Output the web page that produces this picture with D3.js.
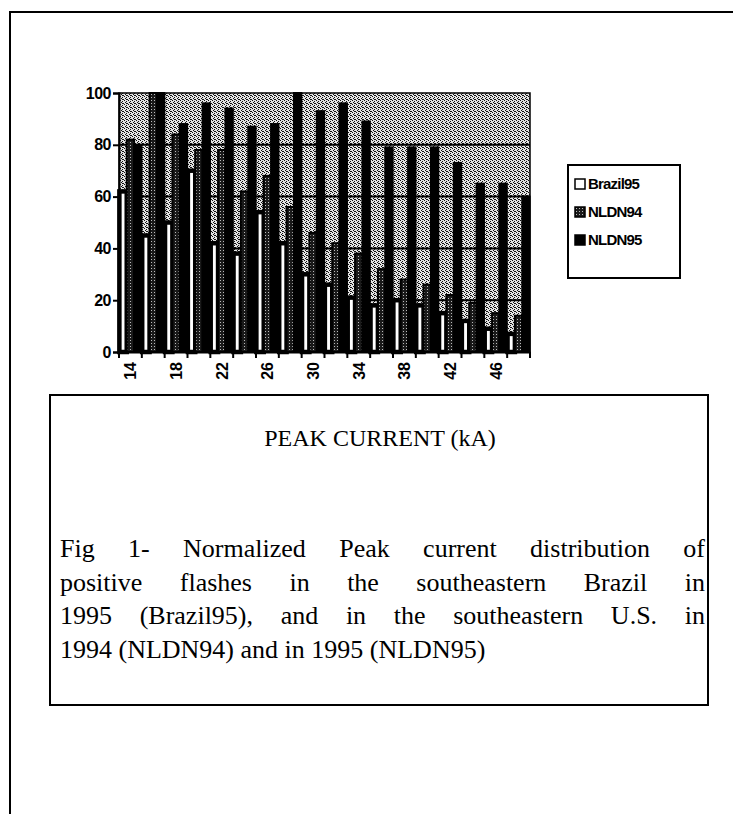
<!DOCTYPE html>
<html>
<head>
<meta charset="utf-8">
<script src="https://cdn.jsdelivr.net/npm/d3@7"></script>
<style>
  body { margin: 0; background: #fff; }
  svg text.ax { font-family: "Liberation Sans", Arial, sans-serif; font-weight: bold; font-size: 16px; }
  svg text.serif { font-family: "Liberation Serif", "Times New Roman", serif; }
</style>
</head>
<body>
<div id="chart"></div>
<script>
// peak current bins (kA)
const categories = [14, 16, 18, 20, 22, 24, 26, 28, 30, 32, 34, 36, 38, 40, 42, 44, 46, 48];
const tickLabels = [14, 18, 22, 26, 30, 34, 38, 42, 46];
const yTicks = [0, 20, 40, 60, 80, 100];

// normalized values
const brazil95 = [62, 45, 50, 70, 42, 38, 54, 42, 30, 26, 21, 18, 20, 18, 15, 12, 9, 7];
const nldn94 = [82, 100, 84, 78, 78, 62, 68, 56, 46, 42, 38, 32, 28, 26, 22, 19, 15, 14];
const nldn95 = [80, 100, 88, 96, 94, 87, 88, 100, 93, 96, 89, 79, 79, 79, 73, 65, 65, 60];

const seriesNames = ["Brazil95", "NLDN94", "NLDN95"];
const seriesData = [brazil95, nldn94, nldn95];
const captionLines = [
  "Fig 1- Normalized Peak current distribution of",
  "positive flashes in the southeastern Brazil in",
  "1995 (Brazil95), and in the southeastern U.S. in",
  "1994 (NLDN94) and in 1995 (NLDN95)"
];

const W = 733, H = 814;
const svg = d3.select("#chart").append("svg").attr("width", W).attr("height", H);

// patterns for the scanned look
const defs = svg.append("defs");
const bg = defs.append("pattern").attr("id", "stip").attr("width", 4).attr("height", 4)
  .attr("patternUnits", "userSpaceOnUse");
bg.append("rect").attr("width", 4).attr("height", 4).attr("fill", "#e4e4e4");
[[0, 0], [2, 1], [1, 2], [3, 3], [2, 3]].forEach(p => {
  bg.append("rect").attr("x", p[0]).attr("y", p[1]).attr("width", 1).attr("height", 1).attr("fill", "#111");
});
const hatch = defs.append("pattern").attr("id", "hatch").attr("width", 3).attr("height", 3)
  .attr("patternUnits", "userSpaceOnUse");
hatch.append("rect").attr("width", 3).attr("height", 3).attr("fill", "#1a1a1a");
hatch.append("rect").attr("x", 1).attr("y", 1).attr("width", 1).attr("height", 1).attr("fill", "#bbb");

const fills = ["#fff", "url(#hatch)", "#000"];

// outer frame
svg.append("path").attr("d", "M10,814 V12 H733").attr("fill", "none")
  .attr("stroke", "#000").attr("stroke-width", 2);

const plot = { left: 119, right: 530, top: 93, bottom: 352 };
const x = d3.scaleBand().domain(categories).range([plot.left, plot.right]).paddingInner(0).paddingOuter(0);
const xs = d3.scaleBand().domain(seriesNames).range([0, x.bandwidth()]).paddingInner(0).paddingOuter(0.05);
const y = d3.scaleLinear().domain([0, 100]).range([plot.bottom, plot.top]);

const g = svg.append("g");
g.append("rect").attr("x", plot.left).attr("y", plot.top)
  .attr("width", plot.right - plot.left).attr("height", plot.bottom - plot.top)
  .attr("fill", "url(#stip)").attr("stroke", "#000").attr("stroke-width", 1.5);

// gridlines
g.selectAll("line.grid").data(yTicks.slice(1, -1)).enter().append("line")
  .attr("x1", plot.left).attr("x2", plot.right)
  .attr("y1", d => y(d)).attr("y2", d => y(d))
  .attr("stroke", "#000").attr("stroke-width", 2);

// bars
seriesNames.forEach((name, si) => {
  g.selectAll("rect.s" + si).data(categories).enter().append("rect")
    .attr("x", (d) => x(d) + xs(name))
    .attr("y", (d, i) => y(seriesData[si][i]))
    .attr("width", xs.bandwidth())
    .attr("height", (d, i) => y(0) - y(seriesData[si][i]))
    .attr("fill", fills[si])
    .attr("stroke", "#000").attr("stroke-width", si === 0 ? 4.5 : 2);
});

// y axis
const yAxis = g.append("g").attr("transform", `translate(${plot.left},0)`)
  .call(d3.axisLeft(y).tickValues(yTicks).tickSize(6).tickPadding(2));
yAxis.select(".domain").attr("stroke-width", 2);
yAxis.selectAll("line").attr("stroke-width", 2);
yAxis.selectAll("text").attr("class", "ax").attr("fill", "#000").style("letter-spacing", "-0.5px");

// x axis
const xAxis = g.append("g").attr("transform", `translate(0,${plot.bottom})`)
  .call(d3.axisBottom(x).tickSize(0).tickFormat(""));
xAxis.select(".domain").attr("stroke-width", 2);
xAxis.selectAll(".tick").remove();
g.selectAll("line.xt").data(categories.concat([null])).enter().append("line")
  .attr("x1", (d, i) => plot.left + i * x.step()).attr("x2", (d, i) => plot.left + i * x.step())
  .attr("y1", plot.bottom).attr("y2", plot.bottom + 6)
  .attr("stroke", "#000").attr("stroke-width", 2);
g.selectAll("text.xl").data(tickLabels).enter().append("text")
  .attr("class", "ax")
  .attr("transform", d => `translate(${x(d) + x.bandwidth() / 2 + 6},${plot.bottom + 10}) rotate(-90)`)
  .attr("text-anchor", "end")
  .text(d => d);

// legend
const lg = svg.append("g").attr("transform", "translate(568,165)");
lg.append("rect").attr("width", 112).attr("height", 113).attr("fill", "#fff")
  .attr("stroke", "#000").attr("stroke-width", 2);
seriesNames.forEach((name, i) => {
  const row = lg.append("g").attr("transform", `translate(7,${20 + i * 28})`);
  row.append("rect").attr("x", 0).attr("y", -6).attr("width", 10).attr("height", 10)
    .attr("fill", fills[i]).attr("stroke", "#000").attr("stroke-width", 1.5);
  row.append("text").attr("x", 13).attr("y", 4).attr("class", "ax")
    .style("font-size", "15px").style("letter-spacing", "-0.8px").text(name);
});

// caption box
svg.append("rect").attr("x", 50).attr("y", 395).attr("width", 658).attr("height", 310)
  .attr("fill", "none").attr("stroke", "#000").attr("stroke-width", 2);
svg.append("text").attr("class", "serif").attr("x", 380).attr("y", 446).attr("text-anchor", "middle")
  .style("font-size", "24px")
  .text("PEAK CURRENT (kA)");
// justified paragraph: stretch word gaps to the box width
const cap = svg.selectAll("text.cap").data(captionLines).enter().append("text")
  .attr("class", "serif")
  .attr("x", 60).attr("y", (d, i) => 557 + i * 33.5)
  .style("font-size", "26px")
  .text(d => d);
cap.each(function (d, i) {
  if (i === captionLines.length - 1) return;
  const w = this.getComputedTextLength();
  const gaps = d.split(" ").length - 1;
  d3.select(this).style("word-spacing", ((645 - w) / gaps) + "px");
});
</script>
</body>
</html>
